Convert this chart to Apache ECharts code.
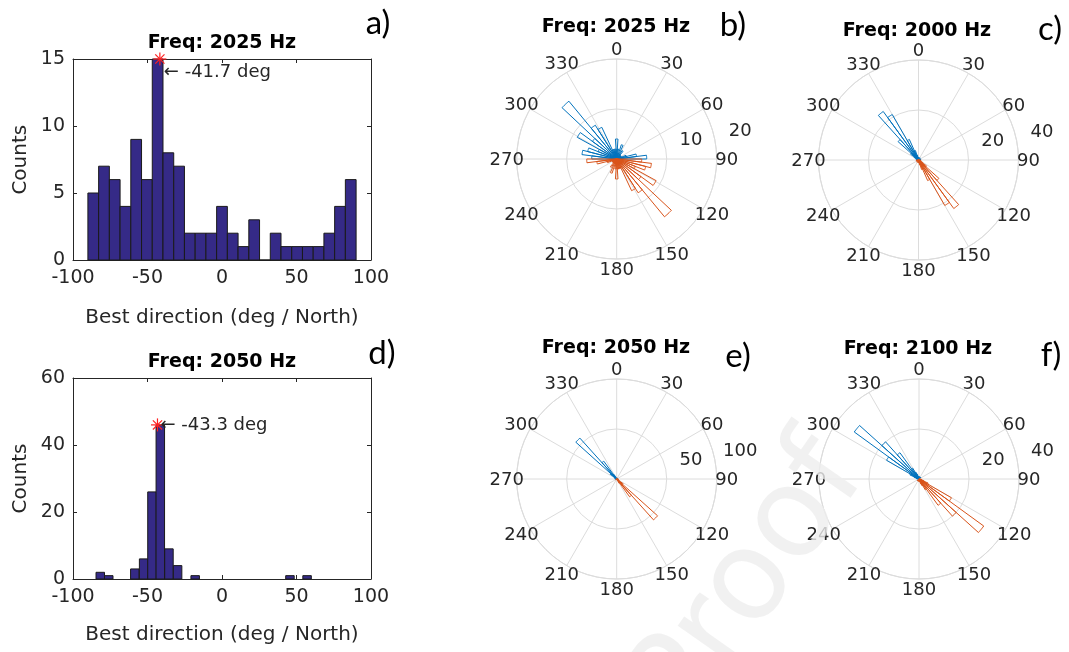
<!DOCTYPE html>
<html><head><meta charset="utf-8">
<script src="https://cdn.jsdelivr.net/npm/echarts@6/dist/echarts.min.js"></script>
<style>html,body{margin:0;padding:0;background:#fff}#c{width:1069px;height:652px}</style>
</head><body><div id="c"></div>
<script>
// ---------------- data ----------------
// Histogram a) Freq 2025 Hz
const histA_centers = [-86.4,-79.2,-72,-64.8,-57.6,-50.4,-43.2,-36,-28.8,-21.6,-14.4,-7.2,0,7.2,14.4,21.6,28.8,36,43.2,50.4,57.6,64.8,72,79.2,86.4];
const histA_counts  = [5,7,6,4,9,6,15,8,7,2,2,2,4,2,1,3,0,2,1,1,1,1,2,4,6];
const histA_peak    = [-41.7, 15];
const histA_label   = '\u2190 -41.7 deg';
// Histogram d) Freq 2050 Hz
const histD_centers = [-81.7,-76.0,-58.5,-52.6,-47.0,-41.4,-35.6,-29.8,-18.0,45.6,57.1];
const histD_counts  = [2,1,3,6,26,46,9,4,1,1,1];
const histD_peak    = [-43.3, 46];
const histD_label   = '\u2190 -43.3 deg';
// tick labels
const histXTicks  = [-100,-50,0,50,100];
const histAYTicks = [0,5,10,15];
const histDYTicks = [0,20,40,60];
const thetaTicks  = [0,30,60,90,120,150,180,210,240,270,300,330];
const polB_rTicks = [10,20];
const polC_rTicks = [20,40];
const polE_rTicks = [50,100];
const polF_rTicks = [20,40];
// polar histograms (blue = direction, orange = opposite direction)
// b) Freq 2025 Hz uses the histogram a) values
const polB_centers = histA_centers;
const polB_counts  = histA_counts;
// c) Freq 2000 Hz
const polC_centers = [279,285,297,303,309,315,321,327,333,339,345,351,3,15,45,81];
const polC_counts  = [1,1,1,2,4,11,24,21,9,4,2,1,1,1,1,1];
// e) Freq 2050 Hz
const polE_centers = [279,291,303,309,315,321,327,333,345,45,57];
const polE_counts  = [2,1,3,8,55,22,5,2,1,1,1];
// f) Freq 2100 Hz
const polF_centers = [279,285,291,297,303,309,315,321,327,333,339,351,9,45];
const polF_counts  = [1,1,2,4,15,32,20,13,5,3,2,1,1,1];

// ---------------- style ----------------
const FONT = 'DejaVu Sans';
const AX = '#262626';
const GRIDC = '#dcdcdc';
const BLUE = '#0072BD', ORANGE = '#D95319';
const BAR = '#352a87';

const chart = echarts.init(document.getElementById('c'), null, {renderer:'canvas'});

const grids = [
  {left:73, top:59, width:298, height:201},
  {left:73, top:378, width:298, height:201}
];
function ticksCfg(t){return {min:t[0], max:t[t.length-1], interval:t[1]-t[0]};}
const xAxes = [], yAxes = [];
[histAYTicks, histDYTicks].forEach((yt, gi) => {
  const xt = histXTicks;
  const base = {axisLine:{show:true, onZero:false, lineStyle:{color:AX, width:1}},
    axisTick:{show:true, inside:true, length:4, lineStyle:{color:AX}}, splitLine:{show:false}};
  xAxes.push(Object.assign({type:'value', gridIndex:gi, position:'bottom',
    axisLabel:{show:true, margin:9, fontFamily:FONT, fontSize:19, color:AX}}, base, ticksCfg(xt)));
  xAxes.push(Object.assign({type:'value', gridIndex:gi, position:'top', axisLabel:{show:false}}, base, ticksCfg(xt)));
  yAxes.push(Object.assign({type:'value', gridIndex:gi, position:'left',
    axisLabel:{show:true, margin:8, fontFamily:FONT, fontSize:19, color:AX}}, base, ticksCfg(yt)));
  yAxes.push(Object.assign({type:'value', gridIndex:gi, position:'right', axisLabel:{show:false}}, base, ticksCfg(yt)));
});

const BW_A = 7.2, BW_D = 5.7;
function barSeries(gi, centers, counts, bw){
  return {type:'custom', xAxisIndex:gi*2, yAxisIndex:gi*2, z:3,
    data: centers.map((c,i)=>[c, counts[i]]),
    renderItem(params, api){
      const x = api.value(0), y = api.value(1);
      const p0 = api.coord([x-bw/2, 0]), p1 = api.coord([x+bw/2, y]);
      return {type:'rect', shape:{x:p0[0], y:p1[1], width:p1[0]-p0[0], height:p0[1]-p1[1]},
        style:{fill:BAR, stroke:'#1a1a1a', lineWidth:1}};
    }};
}
function peakSeries(gi, peak, label, dx, dy){
  return {type:'custom', xAxisIndex:gi*2, yAxisIndex:gi*2, z:5, clip:false,
    data:[peak],
    renderItem(params, api){
      const p = api.coord([api.value(0), api.value(1)]);
      const s = 6.5, d = 4.6;
      const ln = (x1,y1,x2,y2)=>({type:'line', shape:{x1:p[0]+x1,y1:p[1]+y1,x2:p[0]+x2,y2:p[1]+y2}, style:{stroke:'#ff2020', lineWidth:1.2}});
      return {type:'group', children:[
        ln(-s,0,s,0), ln(0,-s,0,s), ln(-d,-d,d,d), ln(-d,d,d,-d),
        {type:'text', x:p[0]+dx, y:p[1]+dy, style:{text:label, font:'18px "'+FONT+'"', fill:AX, align:'left', verticalAlign:'middle'}}
      ]};
    }};
}

// polar setup
const polars = [
  {center:[616.7,159], radius:100, rt:polB_rTicks, c:polB_centers, n:polB_counts, w:7.2},
  {center:[918.5,160], radius:100, rt:polC_rTicks, c:polC_centers, n:polC_counts, w:6},
  {center:[616.7,479], radius:100, rt:polE_rTicks, c:polE_centers, n:polE_counts, w:6},
  {center:[919,479], radius:100, rt:polF_rTicks, c:polF_centers, n:polF_counts, w:6}
];
const polarOpt = [], angleAxes = [], radiusAxes = [], polarSeries = [];
polars.forEach((P, pi) => {
  const rmax = P.rt[P.rt.length-1];
  polarOpt.push({center:P.center, radius:P.radius});
  angleAxes.push({type:'value', polarIndex:pi, startAngle:90, clockwise:true,
    min:0, max:360, interval:thetaTicks[1]-thetaTicks[0],
    axisLine:{show:true, lineStyle:{color:GRIDC, width:1}},
    axisTick:{show:false}, axisLabel:{show:false},
    splitLine:{show:true, lineStyle:{color:GRIDC, width:1}}});
  radiusAxes.push({type:'value', polarIndex:pi, min:0, max:rmax, interval:P.rt[0],
    axisLine:{show:false}, axisTick:{show:false}, axisLabel:{show:false},
    splitLine:{show:true, lineStyle:{color:GRIDC, width:1}}});
  [[BLUE,0],[ORANGE,180]].forEach(([col, off]) => {
    polarSeries.push({type:'custom', coordinateSystem:'polar', polarIndex:pi, z:3, clip:false,
      data: P.c.map((a,i)=>[P.n[i], ((a+off)%360+360)%360]),
      renderItem(params, api){
        const r = api.value(0), a = api.value(1);
        if (!r) return null;
        const pts = [api.coord([0, a])];
        const K = 6;
        for (let k=0;k<=K;k++) pts.push(api.coord([r, a - P.w/2 + P.w*k/K]));
        return {type:'polygon', shape:{points:pts}, style:{fill:'none', stroke:col, lineWidth:1}};
      }});
  });
  // theta tick labels, centred on a ring just outside the plot (MATLAB style)
  polarSeries.push({type:'custom', coordinateSystem:'polar', polarIndex:pi, z:4, clip:false,
    data: thetaTicks.map(t=>[rmax*1.1, t]),
    renderItem(params, api){
      const p = api.coord([api.value(0), api.value(1)]);
      return {type:'text', x:p[0], y:p[1]+1, style:{text:String(api.value(1)), font:'18px "'+FONT+'"', fill:AX, align:'center', verticalAlign:'middle'}};
    }});
  // radius tick labels (MATLAB places them near 80 deg)
  polarSeries.push({type:'custom', coordinateSystem:'polar', polarIndex:pi, z:4, clip:false,
    data: P.rt.map(v=>[v, 80]),
    renderItem(params, api){
      const p = api.coord([api.value(0), api.value(1)]);
      return {type:'text', x:p[0]+25, y:p[1]-10, style:{text:String(api.value(0)), font:'18px "'+FONT+'"', fill:AX, align:'center', verticalAlign:'middle'}};
    }});
});

function txt(x,y,t,font,fill,rot){
  return {type:'text', x:x, y:y, z:10, rotation:rot||0, style:{text:t, font:font, fill:fill, align:'center', verticalAlign:'middle'}};
}
const TB = 'bold 19px "'+FONT+'"';
const TL = '20px "'+FONT+'"';
const TP = '33px "Lato"';
const graphics = [
  txt(222,43,'Freq: 2025 Hz',TB,'#000'), txt(222,362,'Freq: 2050 Hz',TB,'#000'),
  txt(616,27,'Freq: 2025 Hz',TB,'#000'), txt(917,31,'Freq: 2000 Hz',TB,'#000'),
  txt(616,348,'Freq: 2050 Hz',TB,'#000'), txt(918,349,'Freq: 2100 Hz',TB,'#000'),
  txt(222,318,'Best direction (deg / North)',TL,AX), txt(222,635,'Best direction (deg / North)',TL,AX),
  txt(21,159.7,'Counts',TL,AX,Math.PI/2), txt(21,478.5,'Counts',TL,AX,Math.PI/2),
  txt(378,23,'a)',TP,'#000'), txt(382,353,'d)',TP,'#000'), txt(733,25,'b)',TP,'#000'),
  txt(1050,29,'c)',TP,'#000'), txt(738,356,'e)',TP,'#000'), txt(1051,355,'f)',TP,'#000'),
  // very faint "Proof" watermark of the source document
  {type:'text', x:750, y:585, z:20, rotation:55*Math.PI/180,
   style:{text:'Proof', font:'125px "DejaVu Sans"', fill:'rgba(238,238,238,0.8)', align:'center', verticalAlign:'middle'}}
];

chart.setOption({
  animation:false,
  backgroundColor:'#ffffff',
  grid:grids, xAxis:xAxes, yAxis:yAxes,
  polar:polarOpt, angleAxis:angleAxes, radiusAxis:radiusAxes,
  series:[
    barSeries(0, histA_centers, histA_counts, BW_A),
    barSeries(1, histD_centers, histD_counts, BW_D),
    peakSeries(0, histA_peak, histA_label, 4, 13),
    peakSeries(1, histD_peak, histD_label, 3, 0)
  ].concat(polarSeries),
  graphic:graphics
});
</script></body></html>
